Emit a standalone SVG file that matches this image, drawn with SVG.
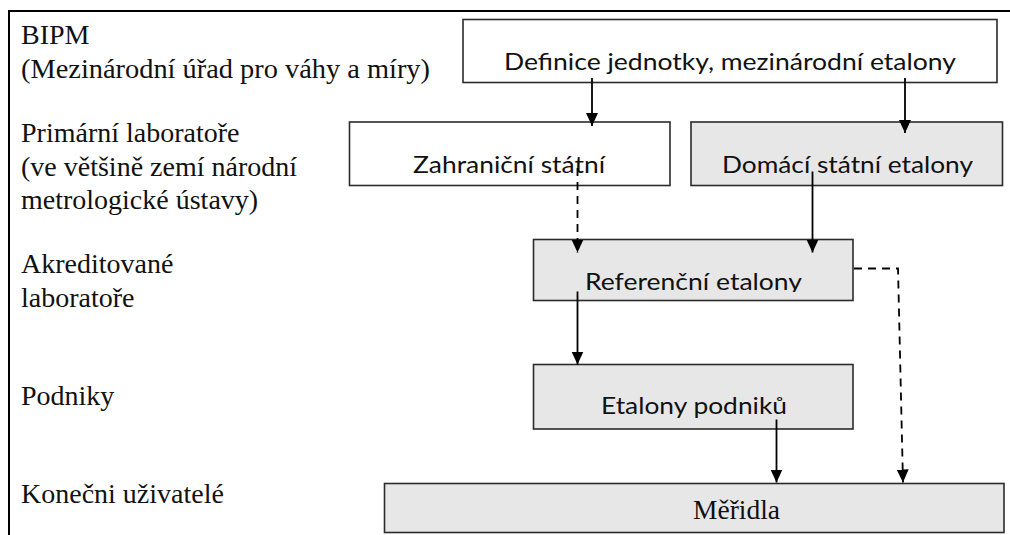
<svg xmlns="http://www.w3.org/2000/svg" width="1010" height="535" viewBox="0 0 1010 535">
  <style>
    .frame { fill: none; stroke: #000; stroke-width: 2; }
    .box { stroke: #2b2b2b; stroke-width: 1.6; }
    .plain { fill: #ffffff; }
    .shaded { fill: #e7e7e7; }
    .label { font-family: "Liberation Serif", "Times New Roman", serif; font-size: 28px; fill: #111; }
    .name { font-family: Lato, "Liberation Sans", sans-serif; font-size: 24px; fill: #111; }
    .serif { font-family: "Liberation Serif", "Times New Roman", serif; font-size: 28px; fill: #111; }
    .link { fill: none; stroke: #000; stroke-width: 1.8; marker-end: url(#arrow); }
    .dashed { stroke-dasharray: 8 6; }
  </style>
  <defs>
    <marker id="arrow" markerUnits="userSpaceOnUse" markerWidth="14" markerHeight="14" viewBox="0 0 14 14" refX="13" refY="7" orient="auto">
      <path d="M0,1 L13,7 L0,13 Z" fill="#000"/>
    </marker>
    <clipPath id="refClip">
      <rect x="534" y="240" width="319" height="52"/>
    </clipPath>
  </defs>

  <rect width="1010" height="535" fill="#ffffff"/>

  <!-- outer frame (left and top edges) -->
  <path class="frame" d="M9,535 V11 H1010"/>

  <!-- level captions -->
  <g id="levels">
    <text class="label" x="21" y="44">BIPM</text>
    <text class="label" x="21" y="78" textLength="409" lengthAdjust="spacingAndGlyphs">(Mezinárodní úřad pro váhy a míry)</text>
    <text class="label" x="21" y="142">Primární laboratoře</text>
    <text class="label" x="21" y="176">(ve většině zemí národní</text>
    <text class="label" x="21" y="209">metrologické ústavy)</text>
    <text class="label" x="21" y="273">Akreditované</text>
    <text class="label" x="21" y="307">laboratoře</text>
    <text class="label" x="21" y="405">Podniky</text>
    <text class="label" x="21" y="503">Konečni uživatelé</text>
  </g>

  <g id="definice">
    <rect class="box plain" x="463" y="19.5" width="534" height="63"/>
    <text class="name" x="504" y="70" textLength="452" lengthAdjust="spacingAndGlyphs">Definice jednotky, mezinárodní etalony</text>
  </g>

  <g id="zahranicni">
    <rect class="box plain" x="349.5" y="122" width="320.5" height="63.5"/>
    <text class="name" x="413" y="172.5" textLength="192" lengthAdjust="spacingAndGlyphs">Zahraniční státní</text>
  </g>

  <g id="domaci">
    <rect class="box shaded" x="691" y="122" width="311.5" height="63.5"/>
    <text class="name" x="722" y="172.5" textLength="251" lengthAdjust="spacingAndGlyphs">Domácí státní etalony</text>
  </g>

  <g id="referencni">
    <rect class="box shaded" x="533.5" y="239.5" width="319.5" height="61"/>
    <text class="name" x="585" y="289.5" textLength="217" lengthAdjust="spacingAndGlyphs" clip-path="url(#refClip)">Referenční etalony</text>
  </g>

  <g id="podniky">
    <rect class="box shaded" x="533.5" y="364.5" width="319.5" height="64.5"/>
    <text class="name" x="601" y="414" textLength="186" lengthAdjust="spacingAndGlyphs">Etalony podniků</text>
  </g>

  <g id="meridla">
    <rect class="box shaded" x="384.5" y="483.5" width="619.5" height="49"/>
    <text class="serif" x="693" y="518.5" textLength="87" lengthAdjust="spacingAndGlyphs">Měřidla</text>
  </g>

  <g id="connectors">
    <path class="link" d="M592,78 V126"/>
    <path class="link" d="M905,78 V133"/>
    <path class="link dashed" d="M577.5,168 V252.5"/>
    <path class="link" d="M812.5,171.5 V252.5"/>
    <path class="link" d="M577.5,291.5 V364.5"/>
    <path class="link dashed" d="M854,268.5 H898 L903,482.5"/>
    <path class="link" d="M776.5,419.5 V482.5"/>
  </g>
</svg>
